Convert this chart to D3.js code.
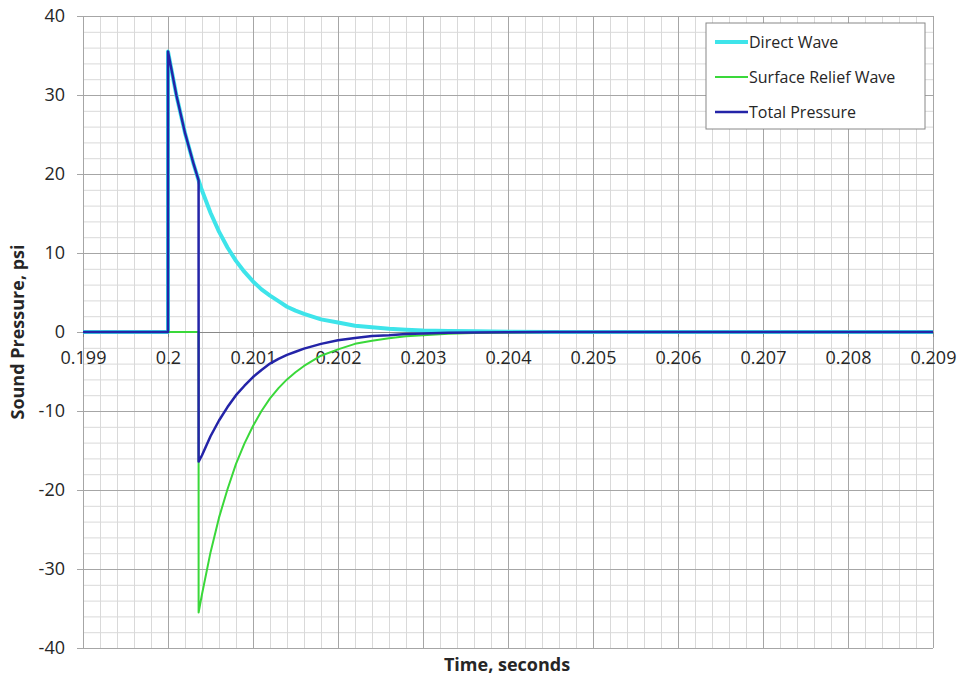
<!DOCTYPE html>
<html>
<head>
<meta charset="utf-8">
<script src="https://cdn.jsdelivr.net/npm/d3@7"></script>
<style>
  body { margin: 0; background: #fff; }
  text { font-family: "Open Sans", Lato, sans-serif; fill: #262626; }
</style>
</head>
<body>
<div id="chart"></div>
<script>
// Time points (seconds), shared by all three series
const times = [0.199, 0.2, 0.2, 0.2001, 0.2002, 0.2003, 0.20036, 0.20036, 0.2004, 0.2005,
    0.2006, 0.2007, 0.2008, 0.2009, 0.201, 0.2011, 0.2012, 0.2013, 0.2014, 0.2015,
    0.2016, 0.2018, 0.202, 0.2022, 0.2024, 0.2026, 0.2028, 0.203, 0.2033, 0.2036,
    0.204, 0.2045, 0.209];

// Sound pressure, psi
const directWave = [0, 0, 35.5, 29.9, 25.2, 21.3, 19.2, 19.2, 17.9, 15.1,
    12.7, 10.7, 9.0, 7.6, 6.4, 5.4, 4.6, 3.9, 3.2, 2.7,
    2.3, 1.6, 1.2, 0.8, 0.6, 0.4, 0.3, 0.2, 0.13, 0.08,
    0.04, 0, 0];

const surfaceWave = [0, 0, 0, 0, 0, 0, 0, -35.5, -33.2, -27.9,
    -23.5, -19.9, -16.7, -14.1, -11.9, -10.0, -8.4, -7.1, -6.0, -5.1,
    -4.3, -3.0, -2.2, -1.5, -1.1, -0.8, -0.55, -0.4, -0.23, -0.14,
    -0.07, 0, 0];

const totalPressure = [0, 0, 35.5, 29.9, 25.2, 21.3, 19.2, -16.4, -15.6, -13.2,
    -11.2, -9.5, -8.0, -6.8, -5.7, -4.8, -4.0, -3.4, -2.9, -2.5,
    -2.1, -1.5, -1.05, -0.75, -0.5, -0.4, -0.25, -0.2, -0.1, -0.06,
    -0.03, 0, 0];

const xTicks = [0.199, 0.2, 0.201, 0.202, 0.203, 0.204, 0.205, 0.206, 0.207, 0.208, 0.209];
const yTicks = [-40, -30, -20, -10, 0, 10, 20, 30, 40];

const seriesNames = ["Direct Wave", "Surface Relief Wave", "Total Pressure"];

let width = 958, height = 678;
let margin = { top: 16, bottom: 30, left: 83, right: 25 };

let svg = d3.select('#chart')
    .append('svg')
    .attr('width', width)
    .attr('height', height);

const xScale = d3.scaleLinear()
    .domain([0.199, 0.209])
    .range([margin.left, width - margin.right]);

const yScale = d3.scaleLinear()
    .domain([-40, 40])
    .range([height - margin.bottom, margin.top]);

const plotW = width - margin.left - margin.right;
const plotH = height - margin.top - margin.bottom;

// minor grid
svg.append('g')
    .attr('transform', `translate(0,${margin.top})`)
    .call(d3.axisTop(xScale).ticks(50).tickSize(-plotH).tickFormat(''))
    .call(g => g.select('.domain').remove())
    .selectAll('line').attr('stroke', '#d9d9d9');

svg.append('g')
    .attr('transform', `translate(${margin.left},0)`)
    .call(d3.axisLeft(yScale).ticks(40).tickSize(-plotW).tickFormat(''))
    .call(g => g.select('.domain').remove())
    .selectAll('line').attr('stroke', '#d9d9d9');

// major grid
svg.append('g')
    .attr('transform', `translate(0,${margin.top})`)
    .call(d3.axisTop(xScale).tickValues(xTicks).tickSize(-plotH).tickFormat(''))
    .call(g => g.select('.domain').remove())
    .selectAll('line').attr('stroke', '#a6a6a6');

// y axis with labels and outside tick marks
let yaxis = svg.append('g')
    .attr('transform', `translate(${margin.left},0)`)
    .call(d3.axisLeft(yScale).tickValues(yTicks).tickSize(6).tickPadding(12).tickFormat(d => String(d)));
yaxis.select('.domain').attr('stroke', '#a6a6a6');
yaxis.selectAll('line').attr('stroke', '#a6a6a6');
yaxis.selectAll('text').style('font-size', '18px').attr('fill', '#262626');

// horizontal major lines across plot
svg.append('g')
    .attr('transform', `translate(${margin.left},0)`)
    .call(d3.axisLeft(yScale).tickValues(yTicks).tickSize(-plotW).tickFormat(''))
    .call(g => g.select('.domain').remove())
    .selectAll('line').attr('stroke', '#a6a6a6');

// x axis crossing at zero
let xaxis = svg.append('g')
    .attr('transform', `translate(0,${yScale(0)})`)
    .call(d3.axisBottom(xScale).tickValues(xTicks).tickSize(5).tickPadding(14)
        .tickFormat(d => String(+d.toFixed(3))));
xaxis.select('.domain').attr('stroke', '#888');
xaxis.selectAll('line').attr('stroke', '#888');
xaxis.selectAll('text').style('font-size', '18px').attr('fill', '#262626');

// series lines
const colors = ['#3ee4ea', '#3ad83a', '#2424a8'];
const widths = [4, 2, 2.5];
const values = [directWave, surfaceWave, totalPressure];

values.forEach((vals, i) => {
    const line = d3.line()
        .x((d, j) => xScale(times[j]))
        .y(d => yScale(d));
    svg.append('path')
        .datum(vals)
        .attr('fill', 'none')
        .attr('stroke', colors[i])
        .attr('stroke-width', widths[i])
        .attr('stroke-linejoin', 'round')
        .attr('d', line);
});

// axis titles
svg.append('text')
    .attr('x', 507)
    .attr('y', height - 7)
    .attr('text-anchor', 'middle')
    .style('font-size', '18px')
    .style('font-weight', 'bold')
    .text('Time, seconds');

svg.append('text')
    .attr('transform', `translate(24,${yScale(0)}) rotate(-90)`)
    .attr('text-anchor', 'middle')
    .style('font-size', '18px')
    .style('font-weight', 'bold')
    .text('Sound Pressure, psi');

// legend
const legend = svg.append('g')
    .attr('transform', 'translate(706,23)');

legend.append('rect')
    .attr('width', 219)
    .attr('height', 106)
    .attr('fill', '#fff')
    .attr('stroke', '#888');

seriesNames.forEach((name, i) => {
    legend.append('line')
        .attr('x1', 9).attr('x2', 42)
        .attr('y1', 19 + i * 35).attr('y2', 19 + i * 35)
        .attr('stroke', colors[i])
        .attr('stroke-width', widths[i]);
    legend.append('text')
        .attr('x', 43)
        .attr('y', 19 + i * 35)
        .attr('dy', '0.35em')
        .style('font-size', '16px')
        .text(name);
});
</script>
</body>
</html>
